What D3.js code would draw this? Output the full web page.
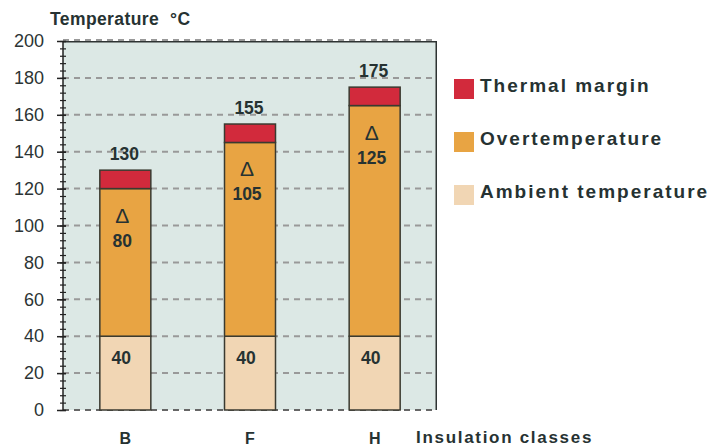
<!DOCTYPE html>
<html>
<head>
<meta charset="utf-8">
<script src="https://cdn.jsdelivr.net/npm/d3@7"></script>
<style>
  body { margin: 0; background: #fff; }
  text { font-family: "Liberation Sans", Arial, sans-serif; }
</style>
</head>
<body>
<div id="chart"></div>
<script>
// data
const categories = ["B", "F", "H"];
const ambient = [40, 40, 40];
const overTemp = [80, 105, 125];
const thermalMargin = [10, 10, 10];
const classTemps = [130, 155, 175];
const yTicks = [0, 20, 40, 60, 80, 100, 120, 140, 160, 180, 200];
const seriesNames = ["Thermal margin", "Overtemperature", "Ambient temperature"];

const margin = {top: 41, right: 284, bottom: 36, left: 63},
    width = 721 - margin.left - margin.right,
    height = 446 - margin.top - margin.bottom;

const colors = {"Thermal margin": "#d22a3c", "Overtemperature": "#e8a443", "Ambient temperature": "#f1d6b4"};
const ink = "#263232";

const svg = d3.select("#chart")
    .append("svg")
    .attr("width", 721)
    .attr("height", 446);

const g = svg.append("g")
    .attr("transform", `translate(${margin.left},${margin.top})`);

const xScale = d3.scaleBand().domain(categories).range([0, width]);
const yScale = d3.scaleLinear().domain([0, 200]).range([height, 0]);
const barW = 51;

// plot background
g.append("rect")
    .attr("width", width)
    .attr("height", height)
    .attr("fill", "#dce8e5");

// dashed grid (the zero line is darker)
g.append("g")
    .selectAll("line")
    .data(yTicks)
    .join("line")
    .attr("x1", 0)
    .attr("x2", width)
    .attr("y1", d => d == 200 ? yScale(d) - 1 : yScale(d))
    .attr("y2", d => d == 200 ? yScale(d) - 1 : yScale(d))
    .attr("stroke", d => d == 0 ? "#666" : "#999")
    .attr("stroke-width", 2)
    .attr("stroke-dasharray", "6,5");

// top and right border
g.append("path")
    .attr("d", `M0,0.75H${width - 0.75}V${height}`)
    .attr("fill", "none")
    .attr("stroke", "#2e3333")
    .attr("stroke-width", 1.5);

// stacked bars
const rows = categories.map((c, i) => ({
    cls: c,
    "Ambient temperature": ambient[i],
    "Overtemperature": overTemp[i],
    "Thermal margin": thermalMargin[i]
}));
const stack = d3.stack().keys(["Ambient temperature", "Overtemperature", "Thermal margin"])(rows);

g.append("g")
    .selectAll("g")
    .data(stack)
    .join("g")
    .attr("fill", d => colors[d.key])
    .selectAll("rect")
    .data(d => d)
    .join("rect")
    .attr("x", d => xScale(d.data.cls) + xScale.bandwidth() / 2 - barW / 2)
    .attr("y", d => yScale(d[1]))
    .attr("width", barW)
    .attr("height", d => yScale(d[0]) - yScale(d[1]))
    .attr("stroke", "#3a3a30")
    .attr("stroke-width", 1.5);

// labels above bars
g.append("g")
    .selectAll("text")
    .data(categories)
    .join("text")
    .attr("x", (d) => xScale(d) + xScale.bandwidth() / 2 - 1)
    .attr("y", (d, i) => yScale(classTemps[i]) - 10)
    .attr("text-anchor", "middle")
    .attr("font-size", "17.5px")
    .attr("font-weight", "bold")
    .attr("fill", ink)
    .text((d, i) => classTemps[i]);

// delta labels in overtemperature part
const delta = g.append("g")
    .selectAll("g")
    .data(categories)
    .join("g")
    .attr("transform", (d, i) => `translate(${xScale(d) + xScale.bandwidth() / 2 - 3},${yScale(ambient[i] + overTemp[i])})`);
delta.append("text")
    .attr("y", 34)
    .attr("text-anchor", "middle")
    .attr("font-family", "'Liberation Serif', serif")
    .attr("font-size", "21px")
    .attr("fill", ink)
    .text("\u0394");
delta.append("text")
    .attr("y", 58)
    .attr("text-anchor", "middle")
    .attr("font-size", "17.5px")
    .attr("font-weight", "bold")
    .attr("fill", ink)
    .text((d, i) => overTemp[i]);

// ambient labels
g.append("g")
    .selectAll("text")
    .data(categories)
    .join("text")
    .attr("x", d => xScale(d) + xScale.bandwidth() / 2 - 4)
    .attr("y", (d, i) => yScale(ambient[i]) + 28)
    .attr("text-anchor", "middle")
    .attr("font-size", "17.5px")
    .attr("font-weight", "bold")
    .attr("fill", ink)
    .text((d, i) => ambient[i]);

// y axis: minor ticks every 4, major every 20
g.append("g")
    .attr("transform", "translate(3,0)")
    .call(d3.axisLeft(yScale).tickValues(d3.range(0, 201, 4)).tickSize(6).tickFormat(""))
    .call(a => a.select(".domain").remove())
    .selectAll("line").attr("stroke", "#222").attr("stroke-width", 1.2);

const yAxis = g.append("g")
    .attr("transform", "translate(3,0)")
    .call(d3.axisLeft(yScale).tickValues(yTicks).tickSize(9).tickPadding(13));
yAxis.select(".domain").remove();
yAxis.selectAll("line").attr("stroke", "#222").attr("stroke-width", 1.5);
yAxis.selectAll("text")
    .attr("font-size", "18px")
    .attr("font-family", "'Liberation Sans', Arial, sans-serif")
    .attr("fill", "#2c3434");

g.append("line")
    .attr("y1", 0)
    .attr("y2", height)
    .attr("stroke", "#222")
    .attr("stroke-width", 1.5);

// x labels
g.append("g")
    .selectAll("text")
    .data(categories)
    .join("text")
    .attr("x", d => xScale(d) + xScale.bandwidth() / 2)
    .attr("y", height + 34)
    .attr("text-anchor", "middle")
    .attr("font-size", "16px")
    .attr("font-weight", "bold")
    .attr("fill", ink)
    .text(d => d);

svg.append("text")
    .attr("x", 416)
    .attr("y", 443)
    .attr("font-size", "17px")
    .attr("font-weight", "bold")
    .attr("letter-spacing", "1.7px")
    .attr("fill", ink)
    .text("Insulation classes");

// title
const title = svg.append("text")
    .attr("x", 50)
    .attr("y", 25)
    .attr("font-size", "17.5px")
    .attr("font-weight", "bold")
    .attr("letter-spacing", "0.4px")
    .attr("fill", ink);
title.append("tspan").text("Temperature");
title.append("tspan").attr("x", 170).text("\u00b0C");

// legend
const legend = svg.append("g")
    .selectAll("g")
    .data(seriesNames)
    .join("g")
    .attr("transform", (d, i) => `translate(454,${79 + i * 53})`);
legend.append("rect")
    .attr("width", 20)
    .attr("height", 20)
    .attr("fill", d => colors[d]);
legend.append("text")
    .attr("x", 26)
    .attr("y", 13)
    .attr("font-size", "19px")
    .attr("font-weight", "bold")
    .attr("letter-spacing", "2px")
    .attr("fill", ink)
    .text(d => d);
</script>
</body>
</html>
